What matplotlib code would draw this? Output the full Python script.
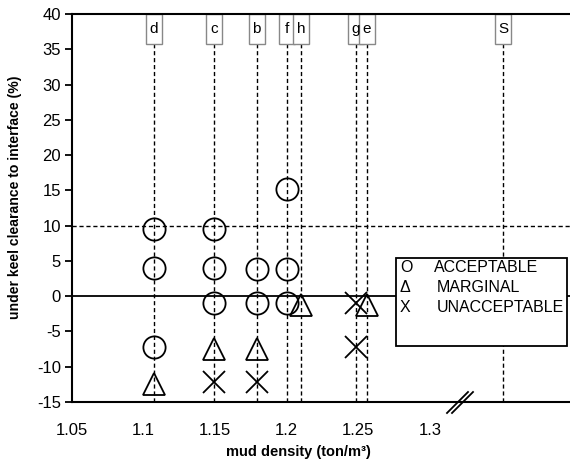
import matplotlib
matplotlib.use('Agg')
import matplotlib.pyplot as plt
from matplotlib.patches import Rectangle
from matplotlib.lines import Line2D

plt.rcParams['font.family'] = ['Liberation Sans', 'DejaVu Sans']
plt.rcParams['axes.unicode_minus'] = False

# case labels and their mud densities (ton/m3)
case_names = ['d', 'c', 'b', 'f', 'h', 'g', 'e', 'S']
case_density = [1.107, 1.149, 1.179, 1.2, 1.21, 1.248, 1.256, 1.351]

# acceptable (circles)
acc_x = [1.107, 1.107, 1.107, 1.149, 1.149, 1.149, 1.179, 1.179, 1.2, 1.2, 1.2]
acc_y = [9.5, 4.0, -7.2, 9.5, 4.0, -1.0, 3.9, -1.0, 15.2, 3.9, -1.0]

# marginal (triangles)
mar_x = [1.107, 1.149, 1.179, 1.21, 1.256]
mar_y = [-12.5, -7.5, -7.5, -1.2, -1.2]

# unacceptable (crosses)
una_x = [1.149, 1.179, 1.248, 1.248]
una_y = [-12.2, -12.2, -1.0, -7.2]

x_ticks = [1.05, 1.1, 1.15, 1.2, 1.25, 1.3]
y_ticks = list(range(-15, 41, 5))

fig = plt.figure(figsize=(5.70, 4.63), dpi=100)
ax = fig.add_axes([72 / 570, 1 - 402 / 463, 498 / 570, 388 / 463])

ax.set_xlim(1.05, 1.05 + 498 / 1432)
ax.set_ylim(-15, 40)

dash = (0, (3, 2))
# vertical case lines and label boxes
for name, xv in zip(case_names, case_density):
    ax.plot([xv, xv], [-15, 35.8], color='black', lw=1, ls=dash, zorder=1)
    ax.add_patch(Rectangle((xv - 0.0056, 35.8), 0.0112, 4.2, facecolor='white',
                           edgecolor='#888888', lw=1, zorder=2, clip_on=False))
    ax.text(xv, 37.9, name, ha='center', va='center', fontsize=11, zorder=3)

ax.axhline(10, color='black', lw=1, ls=dash, zorder=1)
ax.axhline(0, color='black', lw=1.3, zorder=1)

ms = 16
ax.plot(acc_x, acc_y, 'o', ms=ms, mfc='none', mec='black', mew=1.3, zorder=4)
ax.plot(mar_x, mar_y, '^', ms=ms, mfc='none', mec='black', mew=1.3, zorder=4)
ax.plot(una_x, una_y, 'x', ms=ms, mec='black', mew=1.3, zorder=4)

ax.spines['right'].set_visible(False)
for s in ['top', 'bottom', 'left']:
    ax.spines[s].set_linewidth(1.5)

ax.set_xticks(x_ticks)
ax.set_xticklabels(['1.05', '1.1', '1.15', '1.2', '1.25', '1.3'])
ax.set_yticks(y_ticks)
ax.tick_params(axis='x', length=0, pad=15, labelsize=12)
ax.tick_params(axis='y', direction='out', length=5, width=1.3, pad=3, labelsize=12)

ax.set_ylabel('under keel clearance to interface (%)', fontsize=10.1,
              fontweight='bold')
ax.yaxis.set_label_coords(-(72 - 22) / 498, (402 - 197) / 388)
ax.set_xlabel('mud density (ton/m³)', fontsize=10.5, fontweight='bold')
ax.xaxis.set_label_coords((298 - 72) / 498, -(452 - 402) / 388)
ax.xaxis.label.set_va('center')

# axis break mark
for off in [0, 5]:
    fig.add_artist(Line2D([(447 + off) / 570, (468 + off) / 570],
                          [1 - 413 / 463, 1 - 392 / 463],
                          transform=fig.transFigure, color='black', lw=1.3))

# legend box drawn with text symbols
fig.add_artist(Rectangle((396 / 570, 1 - 346 / 463), 171 / 570, 88 / 463,
                         transform=fig.transFigure, facecolor='white',
                         edgecolor='black', lw=1.3, zorder=5))
leg_sym = ['O', 'Δ', 'X']
leg_txt = ['ACCEPTABLE', 'MARGINAL', 'UNACCEPTABLE']
leg_row = [268, 288, 307]
leg_tx = [434, 437, 437]
for sym, txt, yy, tx in zip(leg_sym, leg_txt, leg_row, leg_tx):
    fig.text(400 / 570, 1 - yy / 463, sym, va='center', ha='left', fontsize=11.5, zorder=6)
    fig.text(tx / 570, 1 - yy / 463, txt, va='center', ha='left', fontsize=11.5, zorder=6)

fig.savefig('out.png', dpi=100)
